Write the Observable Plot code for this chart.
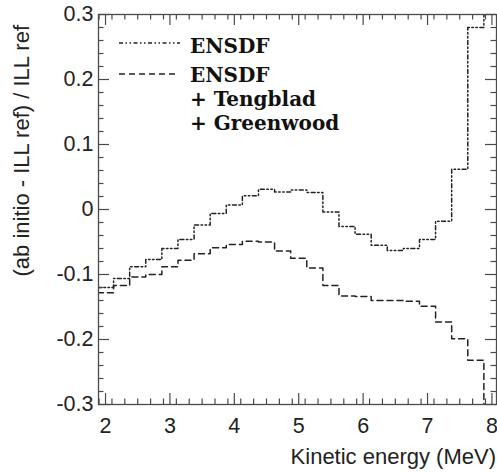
<!DOCTYPE html>
<html><head><meta charset="utf-8">
<script src="https://cdn.jsdelivr.net/npm/d3@7"></script>
<script src="https://cdn.jsdelivr.net/npm/@observablehq/plot@0.6"></script>
<style>body{margin:0;background:#fff}#chart{width:497px;height:472px}</style>
</head><body><div id="chart"></div>
<script>
// Bin edges (MeV), 25 bins of 0.25 MeV
const binEdges = [1.875, 2.125, 2.375, 2.625, 2.875, 3.125, 3.375, 3.625, 3.875, 4.125, 4.375, 4.625, 4.875,
  5.125, 5.375, 5.625, 5.875, 6.125, 6.375, 6.625, 6.875, 7.125, 7.375, 7.625, 7.875, 8.125];
// ENSDF (dash-dot-dot)
const ensdf = [-0.120, -0.106, -0.088, -0.077, -0.060, -0.046, -0.024, -0.006, 0.007, 0.021, 0.031, 0.027, 0.030,
  0.026, -0.004, -0.026, -0.038, -0.055, -0.063, -0.060, -0.046, -0.018, 0.062, 0.280, 0.420];
// ENSDF + Tengblad + Greenwood (dashed)
const ensdfTG = [-0.128, -0.117, -0.104, -0.100, -0.088, -0.078, -0.068, -0.059, -0.054, -0.049, -0.050, -0.064, -0.075,
  -0.090, -0.117, -0.133, -0.134, -0.140, -0.140, -0.141, -0.149, -0.173, -0.199, -0.232, -0.420];
const seriesNames = ["ENSDF", "ENSDF", "+ Tengblad", "+ Greenwood"];
const xTicks = [2, 3, 4, 5, 6, 7, 8];
const xTickLabels = ["2", "3", "4", "5", "6", "7", "8"];
const yTicks = [-0.3, -0.2, -0.1, 0, 0.1, 0.2, 0.3];
const yTickLabels = ["-0.3", "-0.2", "-0.1", "0", "0.1", "0.2", "0.3"];
const xTitle = "Kinetic energy (MeV)";
const yTitle = "(ab initio - ILL ref) / ILL ref";

const W = 497, H = 472, mL = 98, mR = 1, mT = 14, mB = 68;
const iw = W - mL - mR, ih = H - mT - mB;
const majorLen = 11, minorLen = 5.5;
const axisColor = "#4a4a4a";
const lineColor = "#222";
const dashDot = "4,2.5,1.5,2.5,1.5,2.5";
const dashed = "6,4";

const steps = vals => binEdges.map((x, i) => ({x, y: vals[Math.min(i, vals.length - 1)]}));
const xMinor = d3.range(1.9, 8.08, 0.2).filter(v => !xTicks.some(t => Math.abs(t - v) < 1e-6));
const yMinor = d3.range(-0.3, 0.301, 0.02).filter(v => !yTicks.some(t => Math.abs(t - v) < 1e-6));

const tickStyle = {stroke: axisColor, strokeWidth: 1.2};
const plot = Plot.plot({
  width: W, height: H, marginLeft: mL, marginRight: mR, marginTop: mT, marginBottom: mB,
  style: {fontFamily: "'Liberation Sans', Arial, sans-serif", fontSize: "21.5px", color: "#222", background: "#fff"},
  x: {domain: [1.891, 8.071], label: null},
  y: {domain: [-0.3, 0.3], label: null},
  marks: [
    Plot.line(steps(ensdf), {x: "x", y: "y", curve: "step-after", stroke: lineColor, strokeWidth: 1.5, strokeDasharray: dashDot, clip: true}),
    Plot.line(steps(ensdfTG), {x: "x", y: "y", curve: "step-after", stroke: lineColor, strokeWidth: 1.5, strokeDasharray: dashed, clip: true}),
    // ROOT-style inward ticks on all four sides
    Plot.tickX(xTicks, {x: d => d, insetTop: ih - majorLen, ...tickStyle}),
    Plot.tickX(xTicks, {x: d => d, insetBottom: ih - majorLen, ...tickStyle}),
    Plot.tickX(xMinor, {x: d => d, insetTop: ih - minorLen, ...tickStyle}),
    Plot.tickX(xMinor, {x: d => d, insetBottom: ih - minorLen, ...tickStyle}),
    Plot.tickY(yTicks, {y: d => d, insetRight: iw - majorLen, ...tickStyle}),
    Plot.tickY(yTicks, {y: d => d, insetLeft: iw - majorLen, ...tickStyle}),
    Plot.tickY(yMinor, {y: d => d, insetRight: iw - minorLen, ...tickStyle}),
    Plot.tickY(yMinor, {y: d => d, insetLeft: iw - minorLen, ...tickStyle}),
    Plot.frame({stroke: axisColor, strokeWidth: 1.3}),
    Plot.axisX(xTicks, {anchor: "bottom", tickSize: 0, tickPadding: 13, fontSize: 21.5,
      tickFormat: d => xTickLabels[xTicks.indexOf(d)]}),
    Plot.axisY(yTicks, {anchor: "left", tickSize: 0, tickPadding: 5, fontSize: 21.5,
      tickFormat: d => yTickLabels[yTicks.findIndex(t => Math.abs(t - d) < 1e-9)]})
  ]
});

const svg = d3.select(plot);
svg.append("text").attr("x", 496).attr("y", 464).attr("text-anchor", "end")
  .attr("font-size", 22).attr("fill", "#222").text(xTitle);
svg.append("text").attr("transform", "translate(28.5,25) rotate(-90)").attr("text-anchor", "end")
  .attr("font-size", 22).attr("fill", "#222").text(yTitle);

const lg = svg.append("g").attr("font-family", "'DejaVu Serif', serif").attr("font-weight", "bold")
  .attr("font-size", 20).attr("fill", "#111").attr("text-anchor", "start");
lg.append("line").attr("x1", 119).attr("x2", 180).attr("y1", 43).attr("y2", 43)
  .attr("stroke", lineColor).attr("stroke-width", 1.6).attr("stroke-dasharray", dashDot);
lg.append("text").attr("x", 190).attr("y", 53).text(seriesNames[0]);
lg.append("line").attr("x1", 119).attr("x2", 175).attr("y1", 74).attr("y2", 74)
  .attr("stroke", lineColor).attr("stroke-width", 1.6).attr("stroke-dasharray", dashed);
lg.append("text").attr("x", 190).attr("y", 82).text(seriesNames[1]);
lg.append("text").attr("x", 190).attr("y", 106).text(seriesNames[2]);
lg.append("text").attr("x", 190).attr("y", 130).text(seriesNames[3]);

document.getElementById("chart").appendChild(plot);
</script>
</body></html>
